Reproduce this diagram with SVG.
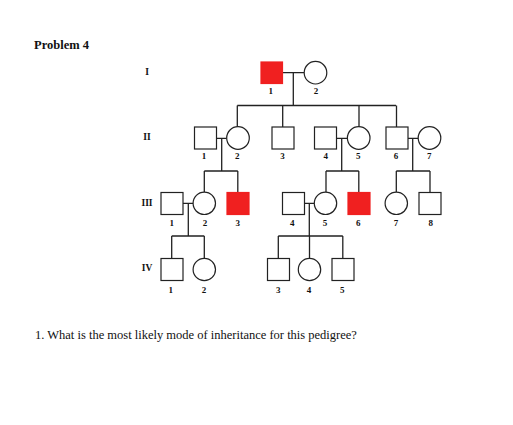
<svg xmlns="http://www.w3.org/2000/svg" width="513" height="425" viewBox="0 0 513 425">
<style>
.sq{fill:#fff;stroke:#222;stroke-width:1.2}
.ci{fill:#fff;stroke:#222;stroke-width:1.2}
.aff{fill:#f02020;stroke:#f02020;stroke-width:1.2}
.ln{fill:none;stroke:#222;stroke-width:1.3}
.lb{font-family:"Liberation Serif",serif;font-weight:bold;font-size:9px;text-anchor:middle;fill:#111}
.gen{font-family:"Liberation Serif",serif;font-weight:bold;font-size:9.5px;text-anchor:middle;fill:#111}
.tx{font-family:"Liberation Serif",serif;font-size:12.5px;fill:#111}
</style>
<rect width="513" height="425" fill="#fff"/>
<text class="tx" x="34" y="49" font-weight="bold">Problem 4</text>
<text class="gen" x="147" y="75">I</text>
<text class="gen" x="147" y="140">II</text>
<text class="gen" x="147" y="206">III</text>
<text class="gen" x="147" y="271">IV</text>
<g id="connectors">
<path class="ln" d="M282 72.7H304M293.3 72.7V105.5M237.3 105.5H396M237.3 105.5V126.7M282.7 105.5V127M359 105.5V126.7M396.5 105.5V127"/>
<path class="ln" d="M216.7 138.3H226.7M221.7 138.3V171M204.3 171H237.8M204.3 171V192M237.8 171V192"/>
<path class="ln" d="M336.7 138.3H347.3M341.7 138.3V171M326 171H358.8M326 171V192M358.8 171V192"/>
<path class="ln" d="M407.7 138.3H418.3M412.7 138.3V171M396.3 171H430M396.3 171V192M430 171V192"/>
<path class="ln" d="M182.7 203.3H193.3M188.3 203.3V236M171.7 236H204.3M171.7 236V258.3M204.3 236V258.3"/>
<path class="ln" d="M304 203.3H314.3M309.3 203.3V236M278.3 236H342.8M278.3 236V258.3M309.5 236V258.3M342.8 236V258.3"/>
</g>
<g id="I-1"><rect class="aff" x="261" y="62" width="21.5" height="21.5"/><text class="lb" x="270.7" y="94">1</text></g>
<g id="I-2"><circle class="ci" cx="315.5" cy="72.7" r="11.3"/><text class="lb" x="316" y="94">2</text></g>
<g id="II-1"><rect class="sq" x="194.5" y="127" width="22" height="22"/><text class="lb" x="204" y="159">1</text></g>
<g id="II-2"><circle class="ci" cx="238" cy="138" r="11.3"/><text class="lb" x="237.3" y="159">2</text></g>
<g id="II-3"><rect class="sq" x="272" y="127" width="22" height="22"/><text class="lb" x="282.5" y="159">3</text></g>
<g id="II-4"><rect class="sq" x="314.5" y="127" width="22" height="22"/><text class="lb" x="325.7" y="159">4</text></g>
<g id="II-5"><circle class="ci" cx="358.7" cy="138" r="11.3"/><text class="lb" x="358.3" y="159">5</text></g>
<g id="II-6"><rect class="sq" x="386" y="127" width="22" height="22"/><text class="lb" x="396" y="159">6</text></g>
<g id="II-7"><circle class="ci" cx="429.5" cy="138" r="11.3"/><text class="lb" x="429.3" y="159">7</text></g>
<g id="III-1"><rect class="sq" x="161" y="192.5" width="22" height="22"/><text class="lb" x="171.7" y="225.5">1</text></g>
<g id="III-2"><circle class="ci" cx="204.3" cy="203.3" r="11.2"/><text class="lb" x="205" y="225.5">2</text></g>
<g id="III-3"><rect class="aff" x="227" y="192.5" width="22" height="22"/><text class="lb" x="237.7" y="225.5">3</text></g>
<g id="III-4"><rect class="sq" x="282.5" y="192.5" width="22" height="22"/><text class="lb" x="292.3" y="225.5">4</text></g>
<g id="III-5"><circle class="ci" cx="325.5" cy="203.3" r="11.2"/><text class="lb" x="325" y="225.5">5</text></g>
<g id="III-6"><rect class="aff" x="348" y="192.5" width="22" height="22"/><text class="lb" x="358.3" y="225.5">6</text></g>
<g id="III-7"><circle class="ci" cx="396.3" cy="203.3" r="11.2"/><text class="lb" x="396" y="225.5">7</text></g>
<g id="III-8"><rect class="sq" x="419" y="192.5" width="22" height="22"/><text class="lb" x="430.7" y="225.5">8</text></g>
<g id="IV-1"><rect class="sq" x="161" y="258.5" width="22" height="22"/><text class="lb" x="170.7" y="292.5">1</text></g>
<g id="IV-2"><circle class="ci" cx="204.3" cy="269.5" r="11.2"/><text class="lb" x="204" y="292.5">2</text></g>
<g id="IV-3"><rect class="sq" x="267.5" y="258.5" width="22" height="22"/><text class="lb" x="278.3" y="292.5">3</text></g>
<g id="IV-4"><circle class="ci" cx="309.5" cy="269.5" r="11.2"/><text class="lb" x="309" y="292.5">4</text></g>
<g id="IV-5"><rect class="sq" x="332" y="258.5" width="22" height="22"/><text class="lb" x="342.3" y="292.5">5</text></g>
<text class="tx" x="35" y="339">1. What is the most likely mode of inheritance for this pedigree?</text>
</svg>
